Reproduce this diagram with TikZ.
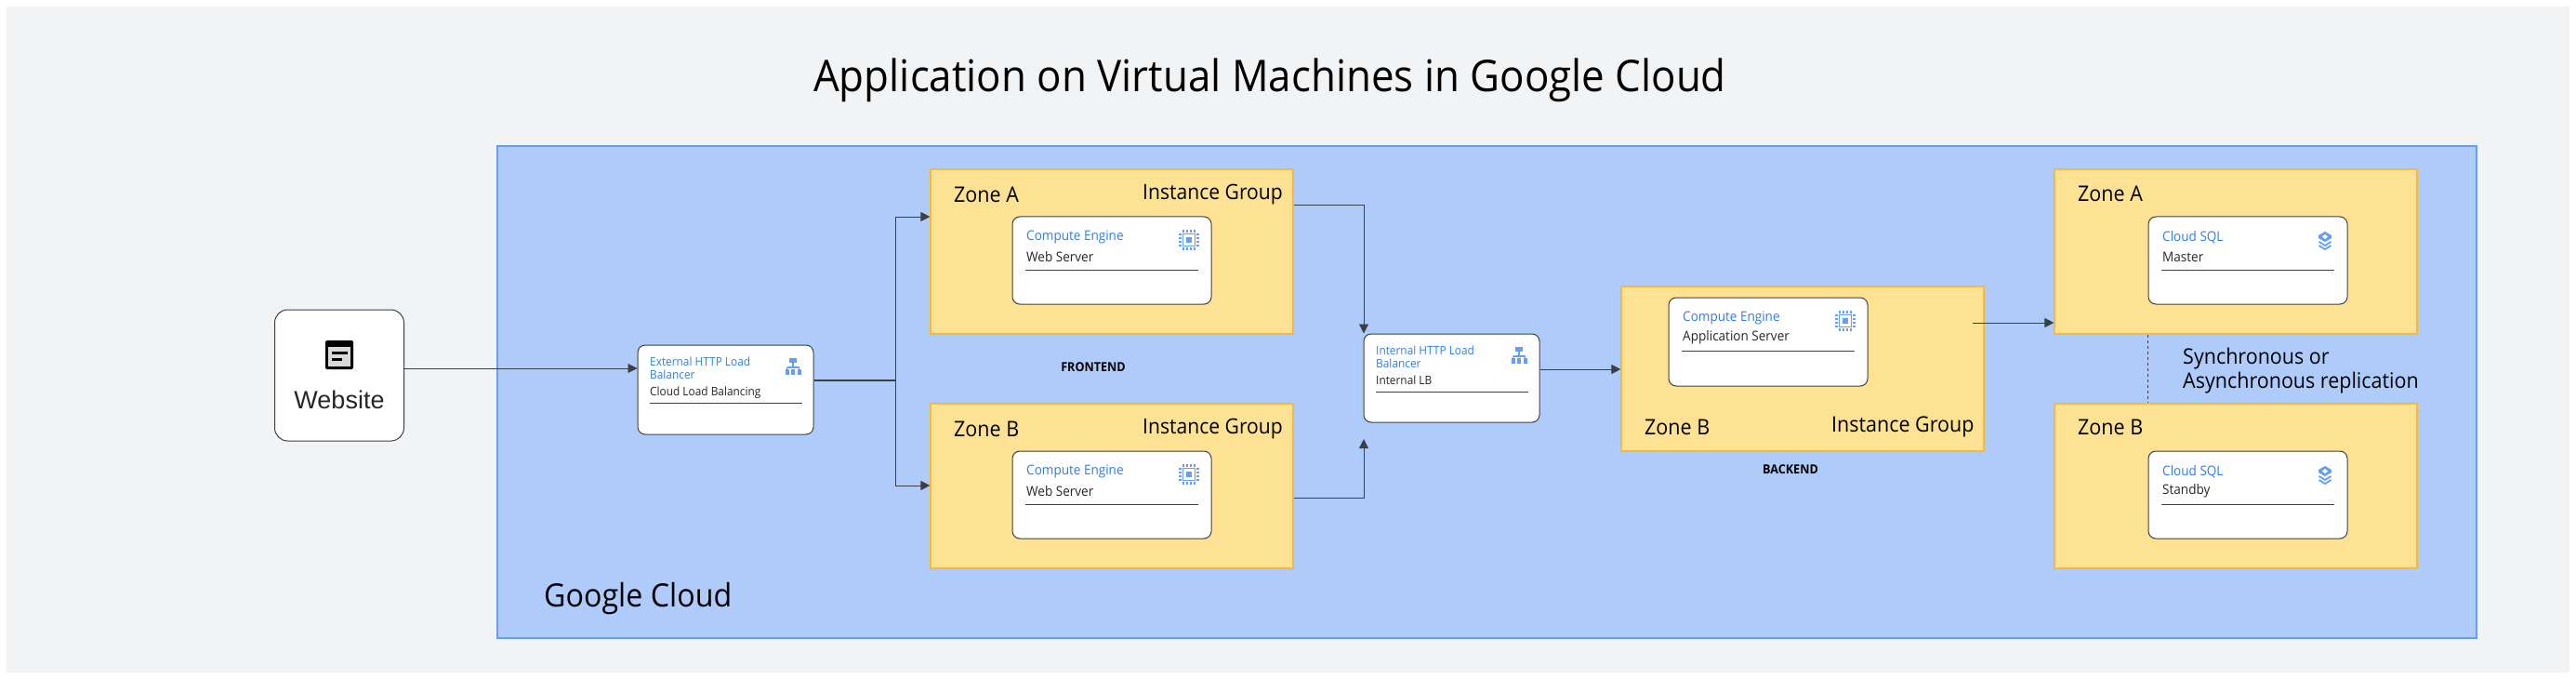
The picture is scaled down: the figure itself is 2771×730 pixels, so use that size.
\documentclass[tikz,border=0pt]{standalone}
\usepackage{fontspec}
\setmainfont[FakeStretch=0.934]{Open Sans}
\newfontfamily\arialfont{Liberation Sans}
\usetikzlibrary{arrows.meta, positioning}

\definecolor{panelgray}{HTML}{F1F3F5}
\definecolor{cloudfill}{HTML}{AECBFA}
\definecolor{cloudline}{HTML}{669DF6}
\definecolor{zonefill}{HTML}{FDE293}
\definecolor{zoneline}{HTML}{F6B93B}
\definecolor{titleblue}{HTML}{2F7DE8}
\definecolor{iconblue}{HTML}{669DF6}
\definecolor{cardline}{HTML}{3C4043}

% one card: name, left, top, width, height, heading, subtitle, icon macro
\newcommand{\svccard}[8]{
    \node[cardbox, minimum width=#4, minimum height=#5] (#1) at ({#2+#4/2}, {#3+#5/2}) {};
    \node[headtext] (#1 head) at ({#2+15}, {#3+22}) {#6};
    \node[subtext] (#1 sub) at ({#2+15}, {#3+43}) {#7};
    \draw[cardrule] ({#2+14}, {#3+57}) -- ({#2+#4-14}, {#3+57});
    #8{{#2+#4-24}}{{#3+25}}
}
\newcommand{\chipicon}[2]{
    \begin{scope}[shift={(#1, #2)}]
        \draw[iconblue, line width=1.5pt] (-6.5, -6.5) rectangle (6.5, 6.5);
        \fill[iconblue] (-3, -3) rectangle (3, 3);
        \foreach \p in {-6, -2, 2, 6} {
            \draw[iconblue, line width=1.3pt] (\p, -11) -- (\p, -8);
            \draw[iconblue, line width=1.3pt] (\p, 8) -- (\p, 11);
            \draw[iconblue, line width=1.3pt] (-11, \p) -- (-8, \p);
            \draw[iconblue, line width=1.3pt] (8, \p) -- (11, \p);
        }
    \end{scope}
}
\newcommand{\lbicon}[2]{
    \begin{scope}[shift={(#1, #2)}]
        \fill[iconblue] (-4, -8) rectangle (4, -3);
        \draw[iconblue, line width=1.3pt] (0, -3) -- (0, 2);
        \draw[iconblue, line width=1.3pt] (-6.5, 2) -- (6.5, 2) (-6.5, 2) -- (-6.5, 4) (6.5, 2) -- (6.5, 4);
        \foreach \p in {-6.5, 0, 6.5} {
            \fill[iconblue] ({\p-2}, 4) rectangle ({\p+2}, 10);
        }
    \end{scope}
}
\newcommand{\stackicon}[2]{
    \begin{scope}[shift={(#1, #2)}]
        \fill[iconblue] (0, -9) -- (7, -5) -- (7, -2) -- (0, 2) -- (-7, -2) -- (-7, -5) -- cycle;
        \fill[white] (0, -6) -- (3, -3.5) -- (0, -1) -- (-3, -3.5) -- cycle;
        \draw[iconblue, line width=1.8pt] (-6.5, 2) -- (0, 6) -- (6.5, 2);
        \draw[iconblue, line width=1.8pt] (-6.5, 6) -- (0, 10) -- (6.5, 6);
    \end{scope}
}

\begin{document}
\begin{tikzpicture}[
    x=1pt, y=-1pt,
    >={Triangle[length=10pt, width=10pt]},
    link/.style={->, line width=0.9pt, draw=cardline},
    zonebox/.style={draw=zoneline, fill=zonefill, line width=1.2pt, inner sep=0pt},
    cardbox/.style={draw=cardline, fill=white, rounded corners=8pt, line width=1pt, inner sep=0pt},
    cardrule/.style={draw=cardline, line width=1pt},
    headtext/.style={anchor=west, inner sep=0pt, text=titleblue, font=\fontsize{14.5}{16}\selectfont},
    subtext/.style={anchor=west, inner sep=0pt, text=black!85, font=\fontsize{14.5}{16}\selectfont},
    lbhead/.style={headtext, align=left, font=\fontsize{12.7}{14}\selectfont},
    lbsub/.style={subtext, font=\fontsize{12.7}{14}\selectfont},
    zonetext/.style={anchor=west, inner sep=0pt, font=\fontsize{23}{28}\selectfont},
    tiertext/.style={inner sep=0pt, font=\fontsize{13.5}{15}\selectfont\bfseries}
]
\useasboundingbox (0, 0) rectangle (2771, 730);

% --- Flaechen ---
\node[fill=panelgray, minimum width=2757, minimum height=716, inner sep=0pt] (panel) at (1385.5, 365) {};
\node[draw=cloudline, fill=cloudfill, line width=1.2pt, minimum width=2129, minimum height=529, inner sep=0pt] (cloud) at (1599.5, 421.5) {};
\node[inner sep=0pt, font=\fontsize{47}{56}\selectfont] (title) at (1366, 86) {Application on Virtual Machines in Google Cloud};
\node[anchor=west, inner sep=0pt, font=\fontsize{34.5}{40}\selectfont] (cloud label) at (585, 644) {Google Cloud};

% --- Website ---
\node[cardbox, rounded corners=14pt, minimum width=139, minimum height=141] (website) at (365, 403.5) {};
\fill[black, rounded corners=2pt] (350, 366) rectangle (380, 397);
\fill[black!15] (353, 373) rectangle (377, 394);
\fill[black] (357, 378) rectangle (374, 381);
\fill[black] (357, 385) rectangle (368, 388);
\node[inner sep=0pt, text=black!85, font=\arialfont\fontsize{27}{32}\selectfont] (website label) at (365, 430) {Website};

% --- Load Balancer ---
\node[cardbox, minimum width=189, minimum height=96] (extlb) at (780.5, 419) {};
\node[lbhead] (extlb head) at (699, 396) {External HTTP Load\\Balancer};
\node[lbsub] (extlb sub) at (699, 422) {Cloud Load Balancing};
\draw[cardrule] (699, 433) -- (863, 433);
\lbicon{853}{393}

\node[cardbox, minimum width=189, minimum height=95] (intlb) at (1561.5, 406.5) {};
\node[lbhead] (intlb head) at (1480, 383.5) {Internal HTTP Load\\Balancer};
\node[lbsub] (intlb sub) at (1480, 409) {Internal LB};
\draw[cardrule] (1480, 421) -- (1644, 421);
\lbicon{1634}{381}

% --- Frontend ---
\foreach \zname/\ztop/\zlabel in {fa/182/Zone A, fb/434/Zone B} {
    \node[zonebox, minimum width=390, minimum height=177] (zone \zname) at (1196, {\ztop+88.5}) {};
    \node[zonetext] (zone \zname{} label) at (1026, {\ztop+27}) {\zlabel};
    \node[zonetext, font=\fontsize{22.6}{28}\selectfont] (zone \zname{} group) at (1229, {\ztop+27}) {Instance Group};
    \svccard{card \zname}{1089}{\ztop+51}{214}{94}{Compute Engine}{Web Server}{\chipicon}
}
\node[tiertext] (frontend) at (1176, 395) {FRONTEND};

% --- Backend ---
\node[zonebox, minimum width=390, minimum height=177] (zone app) at (1939, 396.5) {};
\svccard{card app}{1795}{320}{214}{95}{Compute Engine}{Application Server}{\chipicon}
\node[zonetext] (zone app label) at (1769, 459) {Zone B};
\node[zonetext] (zone app group) at (1970, 459) {Instance Group};
\node[tiertext] (backend) at (1926, 505) {BACKEND};

% --- Datenbank ---
\node[zonebox, minimum width=390, minimum height=177] (zone dba) at (2405, 270.5) {};
\node[zonetext] (zone dba label) at (2235, 208) {Zone A};
\svccard{card dba}{2311}{233}{214}{94}{Cloud SQL}{Master}{\stackicon}

\node[zonebox, minimum width=390, minimum height=177] (zone dbb) at (2405, 522.5) {};
\node[zonetext] (zone dbb label) at (2235, 459) {Zone B};
\svccard{card dbb}{2311}{485}{214}{94}{Cloud SQL}{Standby}{\stackicon}

\draw[dashed, line width=0.9pt, draw=cardline] (zone dba.south -| card dba.west) -- (zone dbb.north -| card dbb.west);
\node[anchor=west, align=left, inner sep=0pt, font=\fontsize{23}{26}\selectfont] (replication) at (2348, 399) {Synchronous or\\Asynchronous replication};

% --- Verbindungen ---
\coordinate (webIn) at (686, 396);
\coordinate (busT) at (963, 233);
\coordinate (busM) at (963, 409);
\coordinate (busB) at (963, 522);
\coordinate (intT) at (1467, 220);
\coordinate (intB) at (1467, 535);
\coordinate (intE) at (1467, 472);
\coordinate (intO) at (1656, 397);
\coordinate (appO) at (2122, 347);

\draw[link] (website.east |- webIn) -- (extlb.west |- webIn);
\draw[line width=1.2pt, draw=cardline] (extlb.east |- busM) -- (busM);
\draw[link] (busM) -- (busT) -- (zone fa.west |- busT);
\draw[link] (busM) -- (busB) -- (zone fb.west |- busB);
\draw[link] (zone fa.east |- intT) -- (intT) -- (intB |- intlb.north);
\draw[link] (zone fb.east |- intB) -- (intB) -- (intE);
\draw[link] (intlb.east |- intO) -- (zone app.west |- intO);
\draw[link] (appO) -- (zone dba.west |- appO);

\end{tikzpicture}
\end{document}
